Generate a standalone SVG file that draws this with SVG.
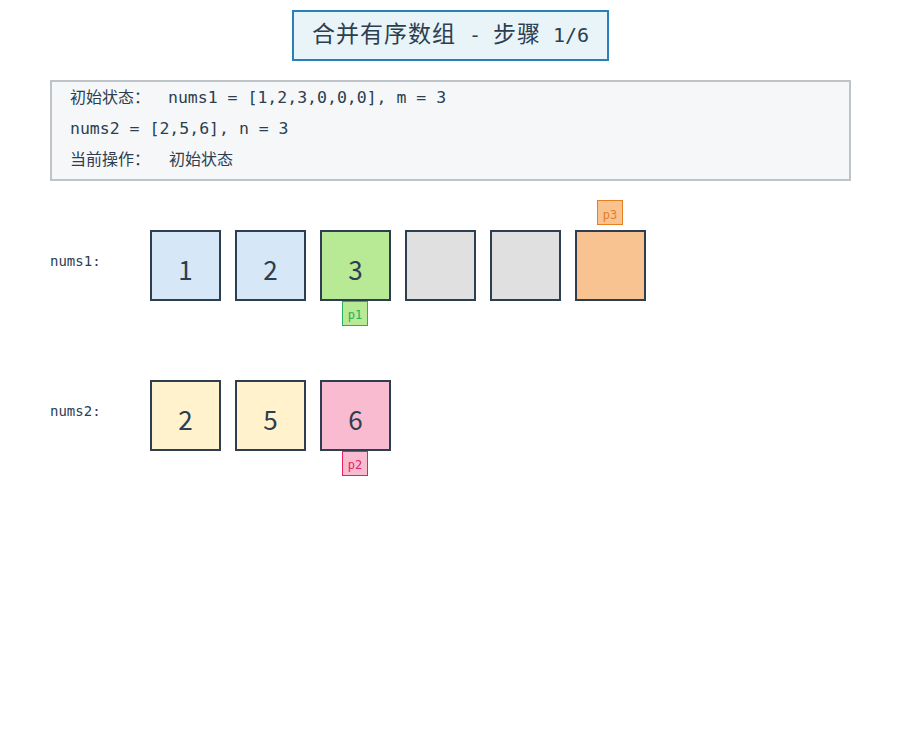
<svg xmlns="http://www.w3.org/2000/svg" width="900" height="750" viewBox="0 0 900 750">
<style>
text{font-family:"DejaVu Sans Mono","Noto Sans CJK SC",monospace;fill:#2c3e50}
.cjk{font-family:"Noto Sans CJK SC",sans-serif}
.cell{stroke:#2c3e50;stroke-width:2}
.num{font-family:"Noto Sans CJK SC","Noto Sans",sans-serif;font-size:26px;text-anchor:middle}
.lbl{font-size:14px}
.info{font-size:16.5px}
.ptr{font-size:12px;text-anchor:middle}
</style>
<rect width="900" height="750" fill="#ffffff"/>
<g id="title">
<rect x="293" y="11" width="315" height="49" fill="#e8f4f8" stroke="#2980b9" stroke-width="2"/>
<text y="42" font-size="20"><tspan class="cjk" x="312" font-size="23" letter-spacing="1">合并有序数组</tspan><tspan x="457"> - </tspan><tspan class="cjk" x="493" font-size="23" letter-spacing="1">步骤</tspan><tspan x="541"> 1/6</tspan></text>
</g>
<g id="info">
<rect x="51" y="81" width="799" height="99" fill="#f5f7f9" stroke="#bdc3c7" stroke-width="2"/>
<text class="info" y="103"><tspan class="cjk" x="70" font-size="16">初始状态：</tspan><tspan x="168">nums1 = [1,2,3,0,0,0], m = 3</tspan></text>
<text class="info" x="70" y="134">nums2 = [2,5,6], n = 3</text>
<text class="info" y="165"><tspan class="cjk" x="70" font-size="16">当前操作：</tspan><tspan class="cjk" x="169" font-size="16">初始状态</tspan></text>
</g>
<text class="lbl" x="50" y="266">nums1:</text>
<text class="lbl" x="50" y="416">nums2:</text>
<g id="nums1-0"><rect class="cell" x="151" y="231" width="69" height="69" fill="#d6e8f7"/><text class="num" x="185.5" y="280">1</text></g>
<g id="nums1-1"><rect class="cell" x="236" y="231" width="69" height="69" fill="#d6e8f7"/><text class="num" x="270.5" y="280">2</text></g>
<g id="nums1-2"><rect class="cell" x="321" y="231" width="69" height="69" fill="#b8e994"/><text class="num" x="355.5" y="280">3</text></g>
<g id="nums1-3"><rect class="cell" x="406" y="231" width="69" height="69" fill="#e0e0e0"/></g>
<g id="nums1-4"><rect class="cell" x="491" y="231" width="69" height="69" fill="#e0e0e0"/></g>
<g id="nums1-5"><rect class="cell" x="576" y="231" width="69" height="69" fill="#f8c291"/></g>
<g id="nums2-0"><rect class="cell" x="151" y="381" width="69" height="69" fill="#fff2cc"/><text class="num" x="185.5" y="430">2</text></g>
<g id="nums2-1"><rect class="cell" x="236" y="381" width="69" height="69" fill="#fff2cc"/><text class="num" x="270.5" y="430">5</text></g>
<g id="nums2-2"><rect class="cell" x="321" y="381" width="69" height="69" fill="#f8bbd0"/><text class="num" x="355.5" y="430">6</text></g>
<g id="p1"><rect x="342.5" y="301.5" width="25" height="24" fill="#b8e994" stroke="#27ae60" stroke-width="1"/><text class="ptr" x="355" y="319" style="fill:#27ae60">p1</text></g>
<g id="p2"><rect x="342.5" y="451.5" width="25" height="24" fill="#f8bbd0" stroke="#e91e63" stroke-width="1"/><text class="ptr" x="355" y="469" style="fill:#e91e63">p2</text></g>
<g id="p3"><rect x="597.5" y="200.5" width="25" height="24" fill="#f8c291" stroke="#e67e22" stroke-width="1"/><text class="ptr" x="610" y="219" style="fill:#e67e22">p3</text></g>
</svg>
